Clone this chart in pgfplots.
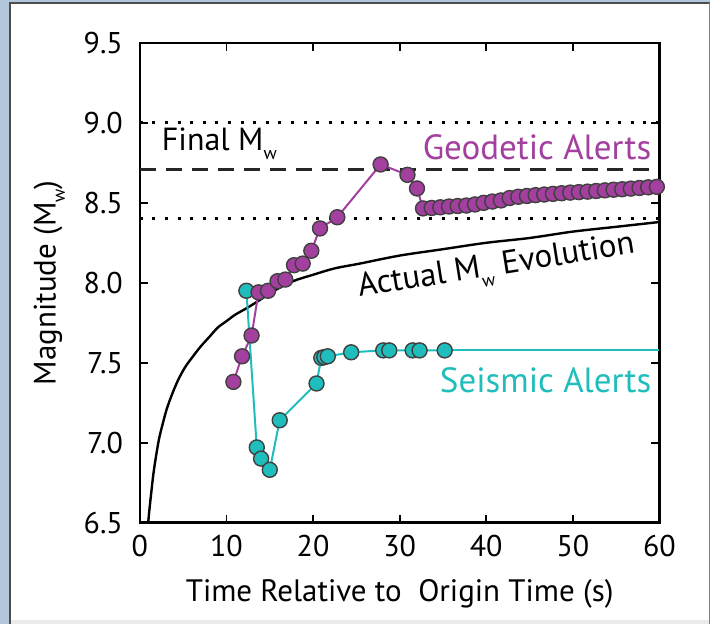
\documentclass[border=0pt]{standalone}
\usepackage{pgfplots}
\pgfplotsset{compat=1.18}
\usepackage{fontspec}
\setmainfont{PT Sans}
\definecolor{geo}{RGB}{163,63,158}
\definecolor{seis}{RGB}{32,189,189}
\definecolor{frameblue}{RGB}{178,198,220}
\newcommand{\wsub}{\raisebox{-0.6ex}{\fontsize{9}{9}\selectfont w}}
\begin{document}
\begin{tikzpicture}
\fill[frameblue] (-70pt,-51pt) rectangle (285.5pt,261.5pt);
\fill[black!8] (-65pt,-51pt) rectangle (285.5pt,260pt);
\fill[white] (-65pt,-49pt) rectangle (285pt,260pt);
\draw[black!70, line width=0.6pt] (-65pt,-51pt) -- (-65pt,260pt) -- (285.5pt,260pt);
\draw[gray, line width=0.6pt] (285.2pt,260pt) -- (285.2pt,-51pt);
\begin{axis}[
  at={(0,0)}, anchor=south west, scale only axis,
  width=260pt, height=240pt,
  xmin=0, xmax=60, ymin=6.5, ymax=9.5,
  xtick={0,10,20,30,40,50,60},
  ytick={6.5,7.0,7.5,8.0,8.5,9.0,9.5},
  tick align=inside, major tick length=4pt,
  axis line style={line width=1.3pt},
  every tick/.style={black, line width=0.9pt},
  /pgf/number format/assume math mode=true,
  ticklabel style={font=\fontsize{15}{17}\selectfont},
  xticklabel style={yshift=-3pt},
  yticklabel style={xshift=-5pt, /pgf/number format/.cd, fixed, fixed zerofill, precision=1},
  label style={font=\fontsize{15.5}{18}\selectfont},
  xlabel={Time Relative to\ \ Origin Time (s)},
  ylabel={Magnitude (M\wsub)},
  ylabel style={yshift=2.5pt},
  xlabel style={yshift=-4pt},
]
% reference lines
\addplot[black, dash pattern=on 1.5pt off 4.8pt, line width=1.5pt, forget plot] coordinates {(0,9.0) (60,9.0)};
\addplot[black, dash pattern=on 1.5pt off 4.8pt, line width=1.5pt, forget plot] coordinates {(0,8.4) (60,8.4)};
\addplot[black!85, dash pattern=on 8pt off 5pt, line width=1.5pt, forget plot] coordinates {(0,8.71) (60,8.71)};
% actual Mw evolution
\addplot[black, line width=1.2pt, smooth] coordinates {
(0.96,6.50) (1.1,6.58) (1.3,6.68) (1.55,6.80) (1.85,6.91) (2.2,7.02) (2.6,7.11)
(3.1,7.21) (3.7,7.30) (4.4,7.39) (5.2,7.47) (6.0,7.53) (7.0,7.60) (8.0,7.66)
(9.0,7.72) (10,7.76) (11,7.80) (12.3,7.84) (13.5,7.88) (15.5,7.95) (17.7,8.01)
(20,8.05) (22.5,8.09) (25.4,8.12) (30,8.17) (35,8.21) (40,8.25) (45,8.28)
(50,8.32) (55,8.35) (60,8.38)};
% seismic alerts
\addplot[seis, line width=1pt] coordinates {(35.2,7.577) (60,7.577)};
\addplot[seis, line width=1pt, mark=*, mark size=3.75pt,
  mark options={fill=seis, draw=black!75, line width=0.7pt}] coordinates {
(12.3,7.95) (13.5,6.97) (14.0,6.90) (15.0,6.83) (16.15,7.14) (20.4,7.37)
(20.95,7.53) (21.3,7.535) (21.7,7.54) (24.4,7.565) (28.1,7.577) (28.8,7.577)
(31.5,7.577) (32.3,7.577) (35.2,7.577)};
% geodetic alerts
\addplot[geo, line width=1pt, mark=*, mark size=3.75pt,
  mark options={fill=geo, draw=black!75, line width=0.7pt}] coordinates {
(10.8,7.38) (11.8,7.54) (12.9,7.67) (13.7,7.94) (14.8,7.95) (15.9,8.01) (16.8,8.02)
(17.8,8.11) (18.8,8.12) (19.8,8.20) (20.8,8.34) (22.8,8.41) (27.8,8.74)
(30.9,8.675) (32.0,8.59) (32.7,8.465) (33.7,8.468) (34.7,8.472) (35.7,8.477)
(36.7,8.480) (37.7,8.483) (38.7,8.490) (39.7,8.500) (40.7,8.508) (41.7,8.515)
(42.7,8.530) (43.7,8.538) (44.7,8.543) (45.7,8.548) (46.7,8.552) (47.7,8.556)
(48.7,8.560) (49.7,8.564) (50.7,8.567) (51.7,8.570) (52.7,8.574) (53.7,8.578)
(54.7,8.582) (55.7,8.585) (56.7,8.589) (57.7,8.593) (58.7,8.597) (59.7,8.600)};
% annotations
\node[anchor=west, inner sep=0pt, font=\fontsize{16}{19}\selectfont] at (axis cs:2.5,8.87) {Final M\wsub};
\node[anchor=east, inner sep=0pt, font=\fontsize{17.5}{20}\selectfont, text=geo] at (axis cs:59.1,8.85) {Geodetic Alerts};
\node[anchor=east, inner sep=0pt, font=\fontsize{17.5}{20}\selectfont, text=seis] at (axis cs:59.1,7.39) {Seismic Alerts};
\node[rotate=9, font=\fontsize{16.5}{19}\selectfont] at (axis cs:41.2,8.09) {Actual M\wsub\ Evolution};
\end{axis}
\end{tikzpicture}
\end{document}
